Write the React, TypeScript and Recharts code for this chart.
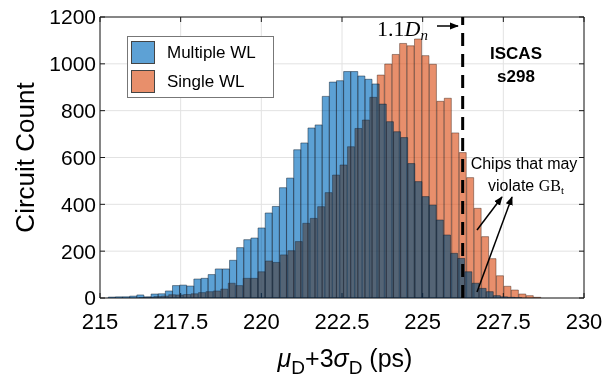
import React from 'react';
import { ComposedChart, Bar, XAxis, YAxis, CartesianGrid, ReferenceLine } from 'recharts';

const W = 604;
const H = 383;
const font = '"Liberation Sans", Arial, Helvetica, sans-serif';
const serif = '"Liberation Serif", "DejaVu Serif", serif';

const xTicks = [215, 217.5, 220, 222.5, 225, 227.5, 230];
const yTicks = [0, 200, 400, 600, 800, 1000, 1200];
const xDomain = [215, 230];
const yDomain = [0, 1200];

const seriesNames = ['Multiple WL', 'Single WL'];
const swatchColors = ['#5DA1D5', '#E88F6B'];

// Multiple WL histogram: bin centres (ps) and counts
const multiCenters = [
  215.368, 215.589, 215.81, 216.031, 216.252, 216.473, 216.694, 216.915, 217.136, 217.357,
  217.578, 217.799, 218.02, 218.241, 218.462, 218.683, 218.904, 219.125, 219.346, 219.567,
  219.788, 220.009, 220.23, 220.451, 220.672, 220.893, 221.114, 221.335, 221.556, 221.777,
  221.998, 222.219, 222.44, 222.661, 222.882, 223.103, 223.324, 223.545, 223.766, 223.987,
  224.208, 224.429, 224.65, 224.871, 225.092, 225.313, 225.534, 225.755, 225.976, 226.197,
  226.418, 226.639, 226.86, 227.081, 227.302, 227.523, 227.744, 227.965,
];
const multiCounts = [
  4, 5, 5, 8, 13, 5, 17, 18, 30, 53,
  55, 51, 81, 84, 100, 124, 124, 161, 215, 249,
  256, 299, 363, 391, 471, 512, 633, 662, 726, 739,
  861, 922, 928, 967, 967, 948, 934, 914, 828, 753,
  710, 685, 574, 497, 433, 397, 333, 269, 191, 169,
  112, 63, 41, 27, 10, 5, 3, 1,
];

// Single WL histogram: bin centres (ps) and counts
const singleCenters = [
  216.319, 216.55, 216.781, 217.012, 217.243, 217.473, 217.704, 217.935, 218.166, 218.397,
  218.628, 218.859, 219.09, 219.321, 219.552, 219.783, 220.013, 220.244, 220.475, 220.706,
  220.937, 221.168, 221.399, 221.63, 221.861, 222.092, 222.322, 222.553, 222.784, 223.015,
  223.246, 223.477, 223.708, 223.939, 224.17, 224.401, 224.632, 224.862, 225.093, 225.324,
  225.555, 225.786, 226.017, 226.248, 226.479, 226.71, 226.941, 227.171, 227.402, 227.633,
  227.864, 228.095, 228.326, 228.557,
];
const singleCounts = [
  2, 3, 6, 8, 14, 13, 15, 18, 23, 27,
  30, 38, 63, 53, 84, 84, 112, 158, 152, 184,
  202, 241, 319, 340, 390, 450, 525, 568, 646, 724,
  760, 857, 952, 999, 1040, 1087, 1077, 1106, 1035, 998,
  840, 853, 705, 621, 514, 383, 262, 168, 95, 50,
  34, 17, 10, 3,
];

const limitX = 226.24; // 1.1 D_n

const multiData = multiCenters.map((x, i) => ({ x, count: multiCounts[i] }));
const singleData = singleCenters.map((x, i) => ({ x, count: singleCounts[i] }));

const plotMargin = { top: 17, right: 20, bottom: 85, left: 100 };
const layer: React.CSSProperties = { position: 'absolute', left: 0, top: 0 };
const axisStroke = { stroke: '#1a1a1a', strokeWidth: 1 };

function XLabel({ viewBox }: any) {
  const cx = viewBox.x + viewBox.width / 2 + 3;
  return (
    <text x={cx} y={viewBox.y + 69} textAnchor="middle" fontFamily={font} fontSize={25} fill="#000">
      <tspan fontStyle="italic">μ</tspan>
      <tspan fontSize={19} dy={7}>D</tspan>
      <tspan dy={-7}>+3</tspan>
      <tspan fontStyle="italic">σ</tspan>
      <tspan fontSize={19} dy={7}>D</tspan>
      <tspan dy={-7}> (ps)</tspan>
    </text>
  );
}

// bars of the Multiple WL series, used for two stacked layers
function MultiLayer({ fill, opacity, stroke, children }: any) {
  return (
    <ComposedChart width={W} height={H} data={multiData} margin={plotMargin} barCategoryGap={0} barGap={0}>
      <XAxis dataKey="x" type="number" domain={xDomain} hide allowDataOverflow />
      <YAxis type="number" domain={yDomain} hide allowDataOverflow />
      <Bar
        dataKey="count"
        fill={fill}
        fillOpacity={opacity}
        stroke={stroke ? '#12202e' : 'none'}
        strokeOpacity={0.6}
        strokeWidth={0.8}
        isAnimationActive={false}
      />
      {children}
    </ComposedChart>
  );
}

export default function App() {
  return (
    <div style={{ position: 'absolute', left: 0, top: 0, width: W, height: H, background: '#fff' }}>
      <div style={layer}>
        <ComposedChart
          width={W}
          height={H}
          data={singleData}
          margin={{ top: 16, right: 19, bottom: 0, left: 0 }}
          barCategoryGap={0}
          barGap={0}
        >
          <CartesianGrid xAxisId="b" yAxisId="l" stroke="#e2e2e2" />
          <XAxis
            xAxisId="b"
            dataKey="x"
            type="number"
            domain={xDomain}
            ticks={xTicks}
            interval={0}
            height={85}
            tickSize={-5}
            tickMargin={20}
            axisLine={axisStroke}
            tickLine={axisStroke}
            tick={{ fill: '#000', fontSize: 22, fontFamily: font }}
            allowDataOverflow
            label={<XLabel />}
          />
          <XAxis
            xAxisId="t"
            orientation="top"
            dataKey="x"
            type="number"
            domain={xDomain}
            ticks={xTicks}
            interval={0}
            height={1}
            tickSize={-5}
            axisLine={axisStroke}
            tickLine={axisStroke}
            tickFormatter={() => ''}
            allowDataOverflow
          />
          <YAxis
            yAxisId="l"
            type="number"
            domain={yDomain}
            ticks={yTicks}
            interval={0}
            width={100}
            tickSize={-5}
            tickMargin={9}
            axisLine={axisStroke}
            tickLine={axisStroke}
            tick={{ fill: '#000', fontSize: 21, fontFamily: font }}
            allowDataOverflow
            label={{
              value: 'Circuit Count',
              angle: -90,
              position: 'insideLeft',
              offset: 25,
              style: { textAnchor: 'middle', fontSize: 26, fontFamily: font, fill: '#000' },
            }}
          />
          <YAxis
            yAxisId="r"
            orientation="right"
            type="number"
            domain={yDomain}
            ticks={yTicks}
            interval={0}
            width={1}
            tickSize={-5}
            axisLine={axisStroke}
            tickLine={axisStroke}
            tickFormatter={() => ''}
            allowDataOverflow
          />
          <Bar
            xAxisId="b"
            yAxisId="l"
            dataKey="count"
            fill="#DC531D"
            fillOpacity={0.65}
            stroke="#3a1c10"
            strokeOpacity={0.55}
            strokeWidth={0.8}
            isAnimationActive={false}
          />
        </ComposedChart>
      </div>

      <div style={{ ...layer, mixBlendMode: 'multiply' }}>
        <MultiLayer fill="#85C4EC" opacity={1} />
      </div>

      <div style={layer}>
        <MultiLayer fill="#0050A0" opacity={0.3} stroke>
          <ReferenceLine x={limitX} stroke="#000" strokeWidth={3} strokeDasharray="13 8" />
        </MultiLayer>
      </div>

      <div
        style={{
          position: 'absolute',
          left: 127,
          top: 36,
          width: 145,
          height: 60,
          border: '1px solid #777',
          background: '#fff',
          fontFamily: font,
          fontSize: 17,
          color: '#000',
        }}
      >
        {seriesNames.map((name, i) => (
          <div
            key={name}
            style={{ position: 'absolute', left: 3, top: 4 + i * 29, height: 23, display: 'flex', alignItems: 'center' }}
          >
            <span
              style={{
                display: 'inline-block',
                width: 24,
                height: 23,
                background: swatchColors[i],
                border: '1px solid #444',
                boxSizing: 'border-box',
              }}
            />
            <span style={{ marginLeft: 12, whiteSpace: 'nowrap' }}>{name}</span>
          </div>
        ))}
      </div>

      <svg width={W} height={H} style={{ ...layer, pointerEvents: 'none' }}>
        <defs>
          <marker id="head" viewBox="0 0 10 10" refX="9" refY="5" markerWidth="6" markerHeight="6" orient="auto">
            <path d="M0,1 L10,5 L0,9 z" fill="#000" />
          </marker>
        </defs>
        <text x={377} y={36} fontFamily={serif} fontSize={22} fill="#000">
          1.1<tspan fontStyle="italic">D</tspan>
          <tspan fontStyle="italic" fontSize={15} dy={4}>n</tspan>
        </text>
        <line x1={437} y1={26} x2={458} y2={26} stroke="#000" strokeWidth={1.5} markerEnd="url(#head)" />
        <text x={516} y={59} textAnchor="middle" fontFamily={font} fontWeight="bold" fontSize={17} fill="#000">
          ISCAS
        </text>
        <text x={516} y={82} textAnchor="middle" fontFamily={font} fontWeight="bold" fontSize={17} fill="#000">
          s298
        </text>
        <text x={524} y={169} textAnchor="middle" fontFamily={font} fontSize={16} fill="#000">
          Chips that may
        </text>
        <text x={526} y={191} textAnchor="middle" fontFamily={font} fontSize={16} fill="#000">
          violate <tspan fontFamily={serif} fontSize={16}>GB</tspan>
          <tspan fontFamily={serif} fontSize={11} dy={3}>t</tspan>
        </text>
        <line x1={477} y1={230} x2={502} y2={197} stroke="#000" strokeWidth={1.5} markerEnd="url(#head)" />
        <line x1={477} y1={292} x2={512} y2={197} stroke="#000" strokeWidth={1.5} markerEnd="url(#head)" />
      </svg>
    </div>
  );
}
